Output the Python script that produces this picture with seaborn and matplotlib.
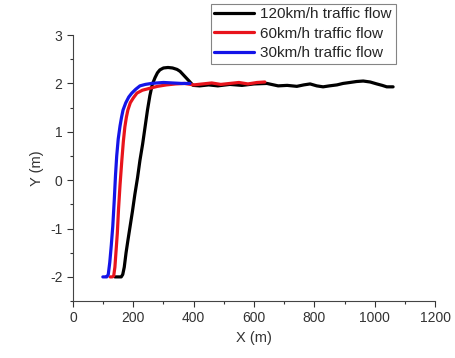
import numpy as np
import pandas as pd
import seaborn as sns
import matplotlib.pyplot as plt
from matplotlib.ticker import MultipleLocator

# values
x_120 = [139, 150, 160, 165, 170, 176, 182, 189, 197, 205, 214, 222, 231, 239, 247, 255, 263, 272,
         280, 288, 300, 315, 330, 345, 355, 370, 385, 398, 420, 450, 480, 520, 560, 600, 643, 680,
         710, 742, 765, 786, 808, 829, 850, 875, 895, 918, 940, 962, 985, 1007, 1025, 1040, 1061]
y_120 = [-2.0, -2.0, -2.0, -1.95, -1.8, -1.5, -1.25, -0.97, -0.65, -0.3, 0.05, 0.41, 0.75, 1.1,
         1.45, 1.75, 1.98, 2.12, 2.22, 2.28, 2.32, 2.33, 2.32, 2.29, 2.25, 2.15, 2.05, 1.96, 1.95,
         1.97, 1.95, 1.98, 1.96, 1.99, 2.0, 1.95, 1.96, 1.94, 1.97, 1.99, 1.95, 1.93, 1.95, 1.97,
         2.0, 2.02, 2.04, 2.05, 2.03, 1.99, 1.96, 1.93, 1.93]

x_60 = [123, 130, 135, 139, 143, 147, 151, 156, 162, 167, 172, 177, 182, 190, 200, 212, 230, 255,
        280, 310, 340, 370, 400, 430, 460, 490, 520, 550, 580, 610, 636]
y_60 = [-2.0, -2.0, -1.98, -1.8, -1.45, -1.1, -0.6, -0.1, 0.41, 0.8, 1.1, 1.3, 1.45, 1.6, 1.7,
        1.8, 1.86, 1.9, 1.94, 1.97, 1.99, 2.0, 1.97, 1.99, 2.01, 1.98, 2.0, 2.02, 1.99, 2.02, 2.03]

x_30 = [99, 106, 112, 117, 122, 127, 132, 137, 141, 145, 150, 156, 161, 166, 175, 185, 195, 208,
        222, 240, 260, 278, 300, 330, 360, 388]
y_30 = [-2.0, -2.0, -2.0, -1.95, -1.7, -1.35, -0.95, -0.4, 0.1, 0.5, 0.85, 1.12, 1.3, 1.45, 1.6,
        1.72, 1.8, 1.88, 1.95, 1.98, 2.0, 2.01, 2.02, 2.01, 2.0, 2.0]

labels = ["120km/h traffic flow", "60km/h traffic flow", "30km/h traffic flow"]
colors = ["black", "#e8141c", "#1414e8"]

df = pd.concat([
    pd.DataFrame({"X": x_120, "Y": y_120, "flow": labels[0]}),
    pd.DataFrame({"X": x_60, "Y": y_60, "flow": labels[1]}),
    pd.DataFrame({"X": x_30, "Y": y_30, "flow": labels[2]}),
])

sns.set_style("ticks")
plt.rcParams["font.family"] = ["Liberation Sans", "DejaVu Sans"]
plt.rcParams["axes.unicode_minus"] = False

fig = plt.figure(figsize=(4.56, 3.58), dpi=100)
ax = fig.add_axes([0.160, 0.159, 0.794, 0.743])

sns.lineplot(data=df, x="X", y="Y", hue="flow", palette=colors, sort=False,
             estimator=None, linewidth=2.3, ax=ax, legend=False)

ax.set_xlim(0, 1200)
ax.set_ylim(-2.5, 3)
ax.xaxis.set_major_locator(MultipleLocator(200))
ax.xaxis.set_minor_locator(MultipleLocator(100))
ax.yaxis.set_major_locator(MultipleLocator(1))
ax.yaxis.set_minor_locator(MultipleLocator(0.5))
ax.tick_params(which="major", length=4, width=0.8, labelsize=10, colors="#333333")
ax.tick_params(which="minor", length=2.5, width=0.8, colors="#333333")
for side in ["left", "bottom"]:
    ax.spines[side].set_color("#444444")
sns.despine(ax=ax)

ax.set_xlabel("X (m)", fontsize=10.5, color="#333333")
ax.set_ylabel("Y (m)", fontsize=10.5, color="#333333")

handles = [plt.Line2D([], [], color=c, linewidth=2.3) for c in colors]
leg = fig.legend(handles, labels, loc="upper left", bbox_to_anchor=(0.462, 0.99),
                 fontsize=11, frameon=True, fancybox=False, edgecolor="#666666",
                 handlelength=2.6, labelspacing=0.35, borderpad=0.25, handletextpad=0.4,
                 borderaxespad=0.0)
leg.get_frame().set_linewidth(0.8)

fig.savefig("out.png", dpi=100)
